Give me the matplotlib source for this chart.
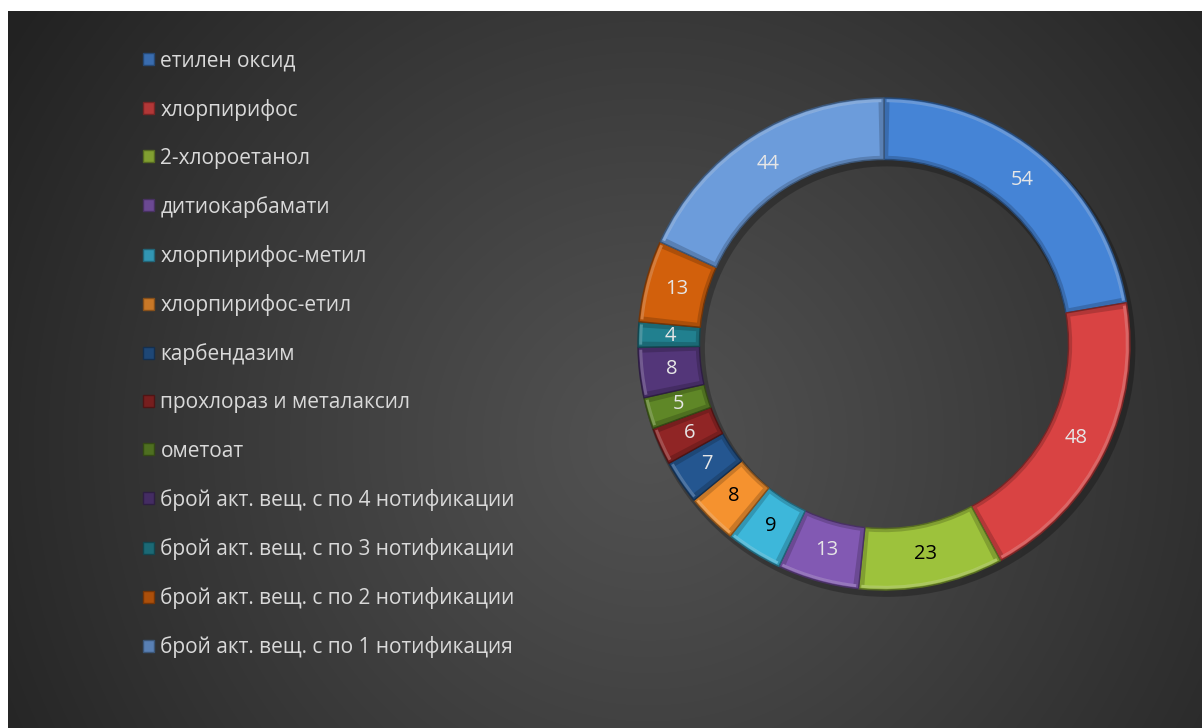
import numpy as np
import matplotlib
matplotlib.use("Agg")
import matplotlib.pyplot as plt
from matplotlib.colors import to_rgb
from matplotlib.patches import Wedge

plt.rcParams['font.family'] = ['Open Sans', 'DejaVu Sans']

категории = [
    "етилен оксид",
    "хлорпирифос",
    "2-хлороетанол",
    "дитиокарбамати",
    "хлорпирифос-метил",
    "хлорпирифос-етил",
    "карбендазим",
    "прохлораз и металаксил",
    "ометоат",
    "брой акт. вещ. с по 4 нотификации",
    "брой акт. вещ. с по 3 нотификации",
    "брой акт. вещ. с по 2 нотификации",
    "брой акт. вещ. с по 1 нотификация",
]
стойности = [54, 48, 23, 13, 9, 8, 7, 6, 5, 8, 4, 13, 44]
цветове = ["#4584D6", "#D94343", "#9DC23C", "#8259B3", "#3DB7DA", "#F5922F",
           "#245690", "#902525", "#5F8727", "#533679", "#21808F", "#D2600C",
           "#6C9CDB"]
цвят_текст = ["#E6E6E6", "#E6E6E6", "#000000", "#E6E6E6", "#000000", "#000000",
              "#E6E6E6", "#E6E6E6", "#E6E6E6", "#E6E6E6", "#E6E6E6", "#E6E6E6",
              "#E6E6E6"]

W, H = 1202, 728
fig = plt.figure(figsize=(W / 100, H / 100), dpi=100)
fig.patch.set_facecolor("white")

# фон с радиален градиент
bg = fig.add_axes([8 / W, 0, 1 - 8 / W, (H - 11) / H])
bg.set_axis_off()
yy, xx = np.mgrid[0:717, 0:1194]
d = np.hypot(xx - 640, yy - 430) / 760
d = np.clip(d, 0, 1)
сиво = 0x52 - (0x52 - 0x22) * d ** 1.1
bg.imshow(np.dstack([сиво, сиво, сиво]) / 255, aspect="auto", interpolation="bilinear")

# поничка
R = 246
cx, cy = 884, H - 344
ax = fig.add_axes([(cx - R * 1.05) / W, (cy - R * 1.05) / H, 2 * R * 1.05 / W, 2 * R * 1.05 / H])
ax.set_axis_off()

def смес(c, k):
    rgb = np.array(to_rgb(c))
    if k < 1:
        return tuple(rgb * k)
    return tuple(rgb + (1 - rgb) * (k - 1))

# сянка под пръстена
ax.add_patch(Wedge((0.012, -0.018), 1.01, 0, 360, width=0.27,
                   facecolor="black", alpha=0.25, linewidth=0))

wedges, _ = ax.pie(стойности, colors=цветове, startangle=90, counterclock=False,
                   radius=1, wedgeprops=dict(width=0.25, linewidth=1.0))
for w, c in zip(wedges, цветове):
    w.set_edgecolor(смес(c, 0.55))
    w.set_facecolor(смес(c, 0.82))
    # вътрешна "плоча" за ефект на релеф
    t1, t2 = w.theta1, w.theta2
    ax.add_patch(Wedge((0, 0), 0.985, t1 + 1.3, t2 - 1.3, width=0.22,
                       facecolor=c, linewidth=0))
    # светъл ръб отвън
    ax.add_patch(Wedge((0, 0), 0.995, t1 + 0.6, t2 - 0.6, width=0.012,
                       facecolor=смес(c, 1.25), linewidth=0, alpha=0.8))

for w, v, tc in zip(wedges, стойности, цвят_текст):
    ang = np.deg2rad((w.theta1 + w.theta2) / 2)
    r = 0.87
    ax.text(r * np.cos(ang), r * np.sin(ang), str(v), ha="center", va="center",
            fontsize=14.5, color=tc)
ax.set_xlim(-1.05, 1.05)
ax.set_ylim(-1.05, 1.05)

leg = fig.legend(wedges, категории, loc="upper left", bbox_to_anchor=(135 / W, 1 - 42 / H),
                 frameon=False, fontsize=15, labelcolor="#D9D9D9",
                 handlelength=0.52, handleheight=0.52, handletextpad=0.3,
                 labelspacing=1.305, borderaxespad=0)

fig.savefig("out.png", dpi=100, facecolor=fig.get_facecolor())
